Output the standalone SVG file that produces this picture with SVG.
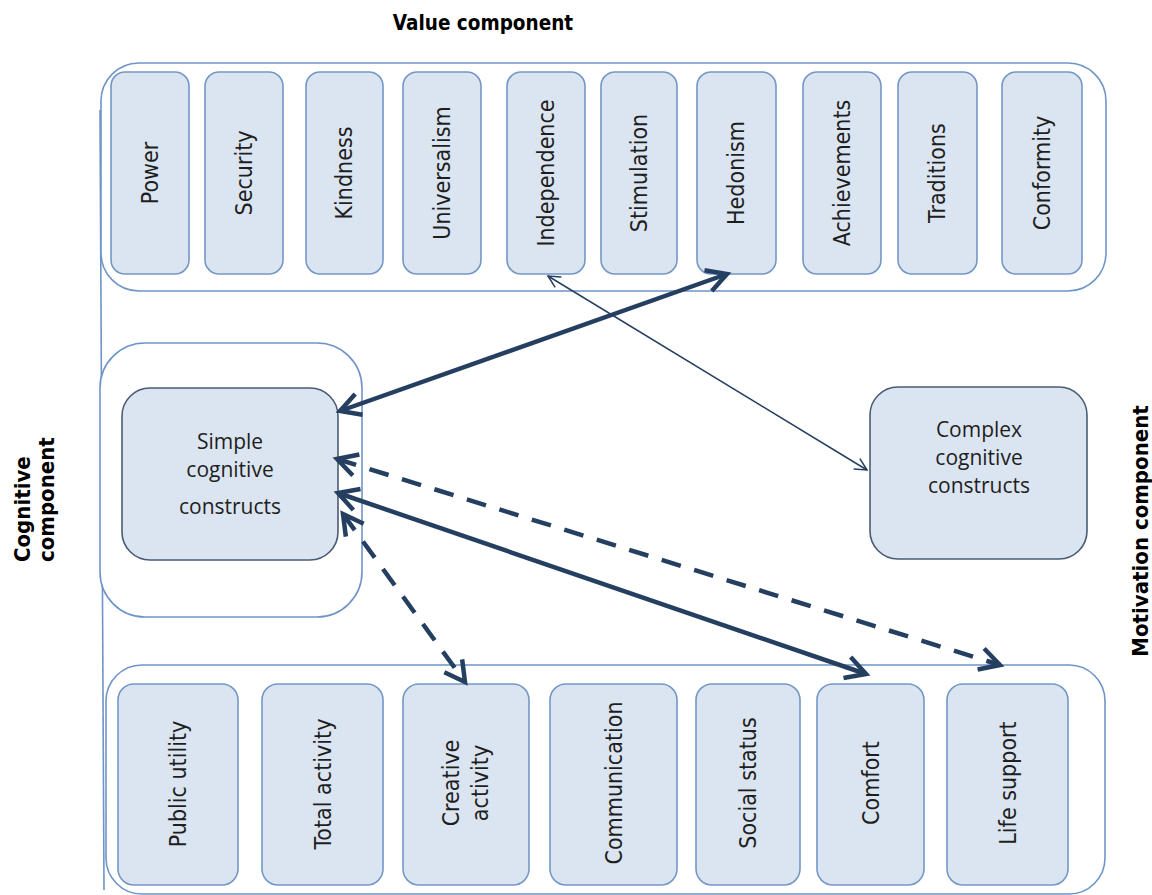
<svg xmlns="http://www.w3.org/2000/svg" width="1152" height="895" viewBox="0 0 1152 895">
  <style>
    .frame { fill: #ffffff; stroke: #6f94c8; stroke-width: 1.6; }
    .item { fill: #dbe5f1; stroke: #7497c6; stroke-width: 1.6; }
    .construct { fill: #dbe5f1; stroke: #4b5c72; stroke-width: 1.6; }
    .lbl { font-family: "DejaVu Sans Condensed", "DejaVu Sans", sans-serif; font-stretch: condensed; font-size: 23px; fill: #1e1e1e; text-anchor: middle; }
    .body { font-family: "Open Sans", "Noto Sans", sans-serif; font-size: 21px; fill: #1e1e1e; text-anchor: middle; }
    .title { font-family: "DejaVu Sans Condensed", "DejaVu Sans", sans-serif; font-stretch: condensed; font-weight: bold; fill: #000000; }
    .link { fill: none; stroke: #243f60; stroke-linecap: butt; }
    .thick { stroke-width: 4.5; marker-start: url(#head); marker-end: url(#head); }
    .thin { stroke-width: 1.5; marker-start: url(#headSmall); marker-end: url(#headSmall); }
    .dash { stroke-dasharray: 20 14; }
  </style>
  <defs>
    <marker id="head" markerUnits="userSpaceOnUse" markerWidth="30" markerHeight="30" refX="0" refY="0" orient="auto-start-reverse" overflow="visible">
      <path d="M-20,-11 L0,0 L-20,11" fill="none" stroke="#243f60" stroke-width="4.5" stroke-linejoin="miter"/>
    </marker>
    <marker id="headSmall" markerUnits="userSpaceOnUse" markerWidth="20" markerHeight="20" refX="0" refY="0" orient="auto-start-reverse" overflow="visible">
      <path d="M-12,-6 L0,0 L-12,6" fill="none" stroke="#243f60" stroke-width="1.5"/>
    </marker>
  </defs>

  <rect width="1152" height="895" fill="#ffffff"/>

  <!-- side rule joining the component frames -->
  <line x1="100" y1="110" x2="104" y2="890" stroke="#6f94c8" stroke-width="1.6"/>

  <!-- section titles -->
  <text class="title" x="483" y="30" font-size="20.5" text-anchor="middle">Value component</text>
  <g class="title" font-size="22">
    <text transform="translate(30,562) rotate(-90)">Cognitive</text>
    <text transform="translate(54,562) rotate(-90)">component</text>
  </g>
  <text class="title" font-size="22" text-anchor="middle" transform="translate(1148,531) rotate(-90)">Motivation component</text>

  <!-- value component -->
  <g id="value-component">
    <rect class="frame" x="101" y="63" width="1005" height="228" rx="38"/>
    <g id="power"><rect class="item" x="111" y="72" width="78" height="202" rx="14"/><text class="lbl" transform="translate(158,173) rotate(-90)">Power</text></g>
    <g id="security"><rect class="item" x="205" y="72" width="78" height="202" rx="14"/><text class="lbl" transform="translate(252,173) rotate(-90)">Security</text></g>
    <g id="kindness"><rect class="item" x="306" y="72" width="77" height="202" rx="14"/><text class="lbl" transform="translate(352,173) rotate(-90)">Kindness</text></g>
    <g id="universalism"><rect class="item" x="403" y="72" width="78" height="202" rx="14"/><text class="lbl" transform="translate(450,173) rotate(-90)">Universalism</text></g>
    <g id="independence"><rect class="item" x="507" y="72" width="78" height="202" rx="14"/><text class="lbl" transform="translate(554,173) rotate(-90)">Independence</text></g>
    <g id="stimulation"><rect class="item" x="601" y="72" width="76" height="202" rx="14"/><text class="lbl" transform="translate(647,173) rotate(-90)">Stimulation</text></g>
    <g id="hedonism"><rect class="item" x="697" y="72" width="79" height="202" rx="14"/><text class="lbl" transform="translate(744,173) rotate(-90)">Hedonism</text></g>
    <g id="achievements"><rect class="item" x="803" y="72" width="78" height="202" rx="14"/><text class="lbl" transform="translate(850,173) rotate(-90)">Achievements</text></g>
    <g id="traditions"><rect class="item" x="898" y="72" width="79" height="202" rx="14"/><text class="lbl" transform="translate(945,173) rotate(-90)">Traditions</text></g>
    <g id="conformity"><rect class="item" x="1002" y="72" width="80" height="202" rx="14"/><text class="lbl" transform="translate(1050,173) rotate(-90)">Conformity</text></g>
  </g>

  <!-- cognitive component -->
  <g id="cognitive-component">
    <rect class="frame" x="100" y="343" width="262" height="274" rx="45"/>
    <g id="simple-constructs">
      <rect class="construct" x="122" y="388" width="216" height="172" rx="28"/>
      <text class="body" x="230" y="449">Simple</text>
      <text class="body" x="230" y="477">cognitive</text>
      <text class="body" x="230" y="514">constructs</text>
    </g>
  </g>

  <g id="complex-constructs">
    <rect class="construct" x="870" y="387" width="217" height="172" rx="28"/>
    <text class="body" x="979" y="437">Complex</text>
    <text class="body" x="979" y="465">cognitive</text>
    <text class="body" x="979" y="493">constructs</text>
  </g>

  <!-- motivation component -->
  <g id="motivation-component">
    <rect class="frame" x="106" y="665" width="999" height="229" rx="36"/>
    <g id="public-utility"><rect class="item" x="118" y="684" width="120" height="201" rx="16"/><text class="lbl" transform="translate(186,784) rotate(-90)">Public utility</text></g>
    <g id="total-activity"><rect class="item" x="262" y="684" width="121" height="201" rx="16"/><text class="lbl" transform="translate(331,784) rotate(-90)">Total activity</text></g>
    <g id="creative-activity"><rect class="item" x="403" y="684" width="126" height="201" rx="16"/><text class="lbl" transform="translate(459,783) rotate(-90)">Creative</text><text class="lbl" transform="translate(488,783) rotate(-90)">activity</text></g>
    <g id="communication"><rect class="item" x="550" y="684" width="127" height="201" rx="16"/><text class="lbl" transform="translate(622,783) rotate(-90)">Communication</text></g>
    <g id="social-status"><rect class="item" x="696" y="684" width="104" height="201" rx="16"/><text class="lbl" transform="translate(756,783) rotate(-90)">Social status</text></g>
    <g id="comfort"><rect class="item" x="817" y="684" width="107" height="201" rx="16"/><text class="lbl" transform="translate(879,783) rotate(-90)">Comfort</text></g>
    <g id="life-support"><rect class="item" x="947" y="684" width="121" height="201" rx="16"/><text class="lbl" transform="translate(1016,783) rotate(-90)">Life support</text></g>
  </g>

  <!-- relations between constructs and components -->
  <g id="connectors">
    <line class="link thick" x1="340" y1="411" x2="727" y2="274"/>
    <line class="link thin" x1="548" y1="276" x2="867" y2="470"/>
    <line class="link thick dash" x1="337" y1="459" x2="1000" y2="665"/>
    <line class="link thick" x1="338" y1="493" x2="866" y2="674"/>
    <line class="link thick dash" x1="343" y1="514" x2="465" y2="682"/>
  </g>
</svg>
